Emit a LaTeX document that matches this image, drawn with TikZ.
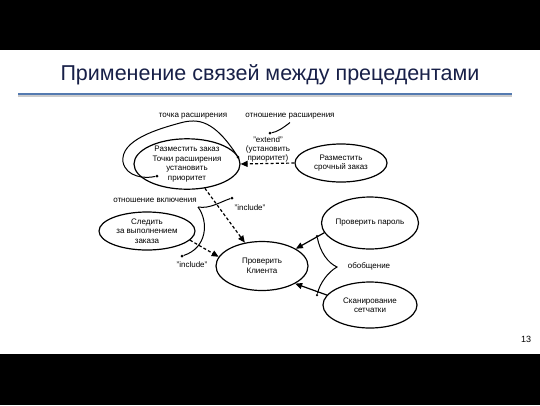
\documentclass[tikz,border=0pt]{standalone}
\usepackage{fontspec}
\setmainfont{Liberation Sans}
\usetikzlibrary{shapes.geometric,arrows.meta}
\definecolor{titlenavy}{RGB}{24,32,72}
\definecolor{rulerblue}{RGB}{84,122,176}
\begin{document}
\begin{tikzpicture}[x=1pt,y=-1pt,
  usecase/.style={ellipse,draw,line width=1.2pt,inner sep=0pt,align=center,font=\fontsize{8}{9.5}\selectfont},
  note/.style={align=center,font=\fontsize{8}{9}\selectfont},
  dep/.style={line width=1.2pt,dash pattern=on 3pt off 2.2pt,-{Triangle[length=7pt,width=6pt]}},
  gen/.style={line width=1.2pt,-{Triangle[length=7pt,width=6pt]}},
  pointer/.style={line width=1pt},
  tipdot/.style={circle,fill,inner sep=0pt,minimum size=3pt}]
\useasboundingbox (0,0) rectangle (540,405);
\fill [black] (0,0) rectangle (540,50);
\fill [white] (0,50) rectangle (540,354);
\fill [black] (0,354) rectangle (540,405);
\node [text=titlenavy,font=\fontsize{21.5}{24}\selectfont] (title) at (270,75) {Применение связей между прецедентами};
\draw [line width=2pt,gray!40] (18,95.5) -- (512,95.5);
\draw [line width=1.6pt,rulerblue] (18,94) -- (512,94);
\node [font=\fontsize{9}{10}\selectfont] (page) at (526,339) {13};
\node [usecase,minimum width=106pt,minimum height=49pt] (zakaz) at (187,164) {Разместить заказ\\Точки расширения\\установить\\приоритет};
\node [usecase,minimum width=92pt,minimum height=38pt] (srochny) at (341,163) {Разместить\\срочный заказ};
\node [usecase,minimum width=96pt,minimum height=38pt] (sled) at (147,231) {Следить\\за выполнением\\заказа};
\node [usecase,minimum width=92pt,minimum height=49pt] (klient) at (262,266) {Проверить\\Клиента};
\node [usecase,minimum width=94pt,minimum height=52pt] (parol) at (370,223) {Проверить пароль};
\node [usecase,minimum width=94pt,minimum height=46pt] (scan) at (370,305) {Сканирование\\сетчатки};
\draw [dep] (srochny.west) -- (zakaz.east);
\draw [dep] (zakaz) -- (klient);
\draw [dep] (sled.-12) -- (klient.168);
\draw [gen] (parol.192) -- (klient.27);
\draw [gen] (scan.167) -- (klient.-28);
\node [note] (extend) at (268,149) {"extend"\\(установить\\приоритет)};
\node [note] (tochka) at (193,116) {точка расширения};
\node [note] (otnrassh) at (290,116) {отношение расширения};
\node [note] (otnvkl) at (155,200) {отношение включения};
\node [note] (inclup) at (250,208) {"include"};
\node [note] (incldown) at (192,265) {"include"};
\node [note] (obobsh) at (369,266) {обобщение};
\node [tipdot] (dotrassh) at (270,133) {};
\node [tipdot] (dotpointA) at (238,157) {};
\node [tipdot] (dotpointB) at (157,176) {};
\node [tipdot] (dotinclA) at (232,198) {};
\node [tipdot] (dotinclB) at (182,256) {};
\node [tipdot,minimum size=2.5pt] (dotgenA) at (317,236) {};
\node [tipdot,minimum size=2.5pt] (dotgenB) at (317,295) {};
\coordinate (vklbase) at (198,207);
\coordinate (genpoint) at (337,267);
\draw [pointer] (otnrassh.south) .. controls (283,128) and (277,132) .. (dotrassh);
\draw [pointer] (dotpointA) .. controls (214,120) and (198,118) .. (180,123)
  .. controls (158,129) and (120,140) .. (123,162)
  .. controls (126,177) and (145,179) .. (dotpointB);
\draw [pointer] (vklbase) .. controls (210,209) and (220,202) .. (dotinclA);
\draw [pointer] (vklbase) .. controls (209,222) and (207,248) .. (dotinclB);
\draw [pointer] (dotgenA) .. controls (320,252) and (328,263) .. (genpoint)
  .. controls (328,272) and (320,283) .. (dotgenB);
\end{tikzpicture}
\end{document}
